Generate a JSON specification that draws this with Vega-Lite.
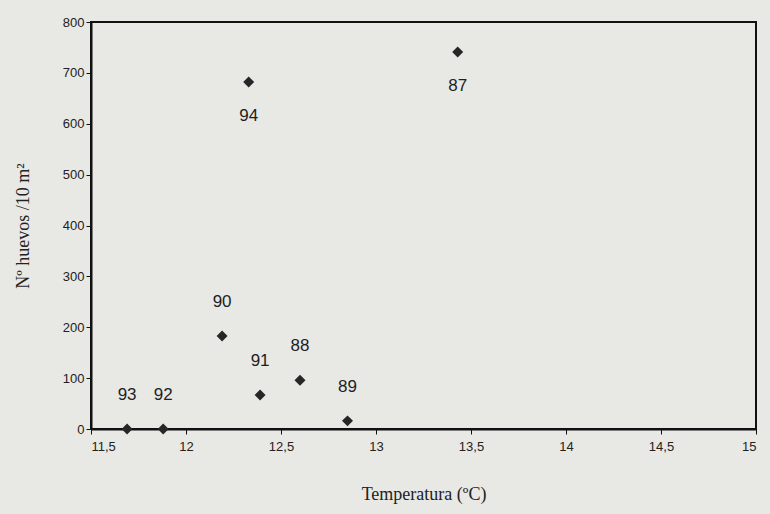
{
  "$schema": "https://vega.github.io/schema/vega-lite/v6.json",
  "width": 665,
  "height": 407,
  "autosize": {"type": "none"},
  "padding": {"left": 91, "top": 22, "right": 14, "bottom": 85},
  "background": "#e8e8e5",
  "config": {
    "view": {"stroke": "#111", "strokeWidth": 2},
    "axis": {"grid": false, "domainColor": "#111", "domainWidth": 2, "tickColor": "#111", "tickSize": 5, "labelFont": "Liberation Sans", "labelFontSize": 13, "labelColor": "#222", "titleFont": "Liberation Serif", "titleFontSize": 18, "titleFontWeight": "normal", "titleColor": "#222"}
  },
  "data": {"values": [
    {"anio": "87", "temp": 13.43, "huevos": 741},
    {"anio": "88", "temp": 12.60, "huevos": 96},
    {"anio": "89", "temp": 12.85, "huevos": 16},
    {"anio": "90", "temp": 12.19, "huevos": 183},
    {"anio": "91", "temp": 12.39, "huevos": 67},
    {"anio": "92", "temp": 11.88, "huevos": 0},
    {"anio": "93", "temp": 11.69, "huevos": 0},
    {"anio": "94", "temp": 12.33, "huevos": 682}
  ]},
  "encoding": {
    "x": {"field": "temp", "type": "quantitative", "scale": {"domain": [11.5, 15], "nice": false, "zero": false}, "axis": {"values": [11.5, 12, 12.5, 13, 13.5, 14, 14.5, 15], "labelExpr": "replace(format(datum.value, '~g'), '.', ',')", "title": "Temperatura (ºC)", "titlePadding": 32, "labelPadding": 6}},
    "y": {"field": "huevos", "type": "quantitative", "scale": {"domain": [0, 800], "nice": false}, "axis": {"values": [0, 100, 200, 300, 400, 500, 600, 700, 800], "title": "Nº huevos /10 m²", "titlePadding": 30}}
  },
  "layer": [
    {"mark": {"type": "point", "shape": "diamond", "filled": true, "color": "#262626", "size": 120, "opacity": 1}},
    {"transform": [{"filter": "datum.huevos < 600"}], "mark": {"type": "text", "dy": -34, "font": "Liberation Sans", "fontSize": 17, "color": "#1e1e1e"}, "encoding": {"text": {"field": "anio"}}},
    {"transform": [{"filter": "datum.huevos >= 600"}], "mark": {"type": "text", "dy": 34, "font": "Liberation Sans", "fontSize": 17, "color": "#1e1e1e"}, "encoding": {"text": {"field": "anio"}}}
  ]
}
